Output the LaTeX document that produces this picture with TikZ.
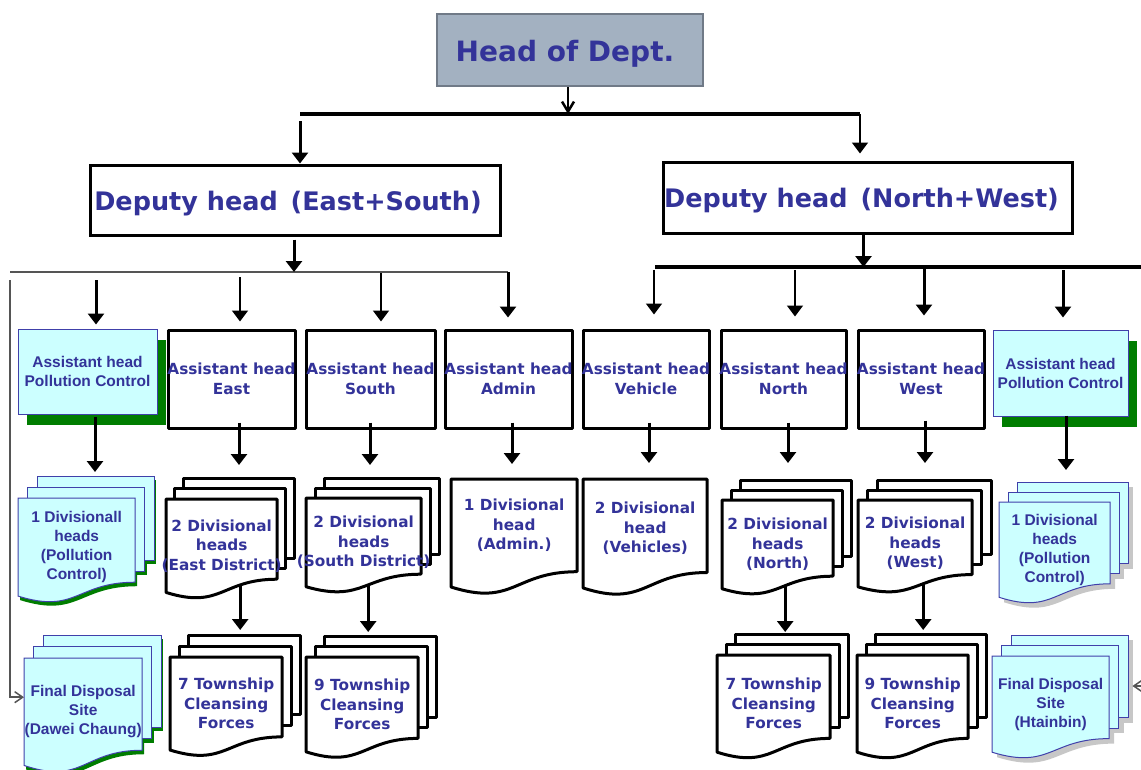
\documentclass[tikz,border=0pt]{standalone}
\usepackage{fontspec}
\setmainfont{DejaVu Sans}
\newfontfamily\arialfont{Liberation Sans}
\usetikzlibrary{arrows.meta,shadows}

\definecolor{txtblue}{RGB}{51,51,153}
\definecolor{paleaqua}{RGB}{204,255,255}
\definecolor{edgeblue}{RGB}{64,64,170}
\definecolor{shadowgreen}{RGB}{0,125,0}
\definecolor{headfill}{RGB}{163,177,193}
\definecolor{headedge}{RGB}{112,122,135}
\definecolor{wiregray}{RGB}{85,85,85}

% centred line that may overflow its box
\newcommand{\ctrline}[1]{\makebox[0pt]{#1}}
% text lowered without changing its box
\newcommand{\lowered}[2]{\raisebox{-#1}[\height][\depth]{#2}}

% flow-chart document: style, x, y (top left), width, height
\newcommand{\docshape}[5]{%
  \path[#1] (#2,#3) -- (#2+#4,#3) -- (#2+#4,#3+0.802*#5)
    .. controls (#2+0.5*#4,#3+0.802*#5) and (#2+0.5*#4,#3+1.1075*#5)
    .. (#2,#3+0.934*#5) -- cycle;}
% sheet lying behind a document
\newcommand{\backsheet}[5]{%
  \path[#1] (#2,#3) rectangle (#2+#4,#3+0.802*#5);}
% stack of three documents: style, x, y, width, height, dx, dy
\newcommand{\trio}[7]{%
  \backsheet{#1}{#2+2*#6}{#3-2*#7}{#4}{#5}
  \backsheet{#1}{#2+#6}{#3-#7}{#4}{#5}
  \docshape{#1}{#2}{#3}{#4}{#5}}

\tikzset{
  bluetext/.style={text=txtblue, inner sep=0pt, align=center,
    font=\bfseries\fontsize{15.3}{19.5}\selectfont},
  aquatext/.style={text=txtblue, inner sep=0pt, align=center,
    font=\arialfont\bfseries\fontsize{15.5}{19}\selectfont},
  plainbox/.style={bluetext, draw=black, line width=3pt, fill=white,
    minimum height=98pt, line join=round},
  aquabox/.style={aquatext, draw=edgeblue, line width=1pt, fill=paleaqua,
    drop shadow={shadow xshift=9pt, shadow yshift=-11pt, fill=shadowgreen, opacity=1}},
  docnode/.style={anchor=north west, inner sep=0pt},
  whitepage/.style={draw=black, line width=3pt, fill=white, line join=round},
  aquapage/.style={draw=edgeblue, line width=1pt, fill=paleaqua},
  greenshade/.style={fill=shadowgreen},
  grayshade/.style={fill=black!22},
  trunk/.style={line width=4pt},
  graywire/.style={draw=wiregray, line width=1.5pt},
  thickarr/.style={line width=3pt, -{Triangle[width=16pt,length=11pt]}},
  thinarr/.style={line width=1.6pt, -{Triangle[width=16pt,length=11pt]}},
  openarr/.style={line width=2.5pt, -{Straight Barb[length=10pt,width=12pt]}},
  sidearr/.style={graywire, -{Straight Barb[length=8pt,width=11pt]}},
  headbox/.style={draw=headedge, line width=2.5pt, fill=headfill, text=txtblue,
    font=\bfseries\fontsize{28}{32}\selectfont},
  deputybox/.style={draw=black, line width=3pt, fill=white, text=txtblue,
    inner sep=0pt, font=\bfseries\fontsize{25.5}{30}\selectfont},
}

\begin{document}
\begin{tikzpicture}[x=1pt,y=-1pt]
\useasboundingbox (0,0) rectangle (1141,769);

% ---------- top levels ----------
\node[headbox, minimum width=266pt, minimum height=72pt] (head) at (570,50)
  {\lowered{4pt}{Head of Dept.}\hspace*{10pt}};
\node[deputybox, minimum width=410pt, minimum height=70pt] (depL) at (295,200)
  {\lowered{3.5pt}{Deputy head\hspace{4pt} (East+South)}\hspace*{14pt}};
\node[deputybox, minimum width=409pt, minimum height=71pt] (depR) at (867.5,197.5)
  {\lowered{3pt}{Deputy head\hspace{4pt} (North+West)}\hspace*{12pt}};

% ---------- assistant heads ----------
\node[aquabox, minimum width=139pt, minimum height=85pt] (asstPL) at (87.5,371.5)
  {Assistant head\\Pollution Control};
\node[plainbox, minimum width=127pt] (asstE) at (231.5,379)
  {\ctrline{Assistant head}\\\ctrline{East}};
\node[plainbox, minimum width=129pt] (asstS) at (370.5,379)
  {\ctrline{Assistant head}\\\ctrline{South}};
\node[plainbox, minimum width=127pt] (asstA) at (508.5,379)
  {\ctrline{Assistant head}\\\ctrline{Admin}};
\node[plainbox, minimum width=126pt] (asstV) at (646,379)
  {\ctrline{Assistant head}\\\ctrline{Vehicle}};
\node[plainbox, minimum width=125pt] (asstN) at (783.5,379)
  {\ctrline{Assistant head}\\\ctrline{North}};
\node[plainbox, minimum width=126pt] (asstW) at (921,379)
  {\ctrline{Assistant head}\\\ctrline{West}};
\node[aquabox, minimum width=135pt, minimum height=86pt] (asstPR) at (1060.5,373)
  {Assistant head\\Pollution Control};

% ---------- divisional heads: sheets ----------
\trio{greenshade}{20}{502}{117}{105}{9.5}{11}
\trio{aquapage}{18}{498}{117}{105}{9.5}{11}
\trio{whitepage}{166}{499}{111}{100}{8.5}{10.5}
\trio{whitepage}{306}{498}{115}{95}{9}{10}
\docshape{whitepage}{451}{479}{126}{115.6}
\docshape{whitepage}{583}{479}{124}{116.6}
\trio{whitepage}{722}{500}{111}{95}{9}{10}
\trio{whitepage}{858}{500}{114}{93}{9.5}{10}
\trio{grayshade}{1004}{507}{111}{102}{9}{10}
\trio{aquapage}{999}{502}{111}{102}{9}{10}

% ---------- bottom row: sheets ----------
\trio{greenshade}{26}{662}{118}{115}{9.5}{11.5}
\trio{aquapage}{24}{658}{118}{115}{9.5}{11.5}
\trio{whitepage}{170}{657}{112}{99.6}{9}{11}
\trio{whitepage}{306}{657}{112}{101.5}{9}{10.5}
\trio{whitepage}{717}{655}{113}{104}{9}{10.5}
\trio{whitepage}{857}{655}{111}{104}{9}{10.5}
\trio{grayshade}{997}{661}{117}{103}{9.5}{10.5}
\trio{aquapage}{992}{656}{117}{103}{9.5}{10.5}

% ---------- divisional heads: labels ----------
\node[docnode, aquatext, minimum width=117pt, minimum height=98.1pt] (docPL) at (18,498)
  {\ctrline{1 Divisionall}\\\ctrline{heads}\\\ctrline{(Pollution}\\\ctrline{Control)}};
\node[docnode, bluetext, minimum width=111pt, minimum height=93.4pt] (docE) at (166,499)
  {\ctrline{2 Divisional}\\\ctrline{heads}\\\ctrline{(East District)}};
\node[docnode, bluetext, minimum width=115pt, minimum height=88.7pt] (docS) at (306,498)
  {\ctrline{2 Divisional}\\\ctrline{heads}\\\ctrline{(South District)}};
\node[docnode, bluetext, minimum width=126pt, minimum height=92pt] (docA) at (451,479)
  {\ctrline{1 Divisional}\\\ctrline{head}\\\ctrline{(Admin.)}};
\node[docnode, bluetext, minimum width=124pt, minimum height=98pt] (docV) at (583,479)
  {\ctrline{2 Divisional}\\\ctrline{head}\\\ctrline{(Vehicles)}};
\node[docnode, bluetext, minimum width=111pt, minimum height=88.7pt] (docN) at (722,500)
  {\ctrline{2 Divisional}\\\ctrline{heads}\\\ctrline{(North)}};
\node[docnode, bluetext, minimum width=114pt, minimum height=86.9pt] (docW) at (858,500)
  {\ctrline{2 Divisional}\\\ctrline{heads}\\\ctrline{(West)}};
\node[docnode, aquatext, minimum width=111pt, minimum height=95.3pt] (docPR) at (999,502)
  {\ctrline{1 Divisional}\\\ctrline{heads}\\\ctrline{(Pollution}\\\ctrline{Control)}};

% ---------- bottom row: labels ----------
\node[docnode, aquatext, minimum width=118pt, minimum height=107.4pt] (finL) at (24,658)
  {\ctrline{Final Disposal}\\\ctrline{Site}\\\ctrline{(Dawei Chaung)}};
\node[docnode, bluetext, minimum width=112pt, minimum height=93pt] (twE) at (170,657)
  {\ctrline{7 Township}\\\ctrline{Cleansing}\\\ctrline{Forces}};
\node[docnode, bluetext, minimum width=112pt, minimum height=94.8pt] (twS) at (306,657)
  {\ctrline{9 Township}\\\ctrline{Cleansing}\\\ctrline{Forces}};
\node[docnode, bluetext, minimum width=113pt, minimum height=97.1pt] (twN) at (717,655)
  {\ctrline{7 Township}\\\ctrline{Cleansing}\\\ctrline{Forces}};
\node[docnode, bluetext, minimum width=111pt, minimum height=97.1pt] (twW) at (857,655)
  {\ctrline{9 Township}\\\ctrline{Cleansing}\\\ctrline{Forces}};
\node[docnode, aquatext, minimum width=117pt, minimum height=96.2pt] (finR) at (992,656)
  {\ctrline{Final Disposal}\\\ctrline{Site}\\\ctrline{(Htainbin)}};

% ---------- head to deputies ----------
\coordinate (topL) at (300,114);
\coordinate (topR) at (860,114);
\draw[trunk] (topL) -- (topR);
\draw[openarr] ([xshift=-2pt]head.south) -- ([xshift=-2pt]head.south |- topL);
\draw[thickarr, shorten <=7pt] (topL) -- (topL |- depL.north);
\draw[thinarr, shorten >=7pt] (topR) -- (topR |- depR.north);

% ---------- east + south branch ----------
\coordinate (midL) at (10,272);
\coordinate (midLend) at (508,272);
\draw[graywire] (midL) -- (midLend);
\draw[thickarr, shorten <=3pt] ([xshift=-1pt]depL.south) -- ([xshift=-1pt]depL.south |- midL);
\draw[thickarr, shorten <=8pt, shorten >=4pt] ([xshift=8.5pt]asstPL.north |- midL) -- ([xshift=8.5pt]asstPL.north);
\draw[thinarr, shorten <=5pt, shorten >=7pt] ([xshift=8.5pt]asstE.north |- midL) -- ([xshift=8.5pt]asstE.north);
\draw[thinarr, shorten <=1pt, shorten >=7pt] ([xshift=10.5pt]asstS.north |- midL) -- ([xshift=10.5pt]asstS.north);
\draw[thickarr, shorten >=11pt] (midLend) -- (midLend |- asstA.north);

% ---------- north + west branch ----------
\coordinate (midR) at (655,267);
\coordinate (midRend) at (1141,267);
\draw[trunk] (midR) -- (midRend);
\draw[thickarr] ([xshift=-4pt]depR.south) -- ([xshift=-4pt]depR.south |- midR);
\draw[thinarr, shorten <=3pt, shorten >=14pt] ([xshift=8pt]asstV.north |- midR) -- ([xshift=8pt]asstV.north);
\draw[thinarr, shorten <=3pt, shorten >=12pt] ([xshift=11.5pt]asstN.north |- midR) -- ([xshift=11.5pt]asstN.north);
\draw[thickarr, shorten <=1pt, shorten >=13pt] ([xshift=3pt]asstW.north |- midR) -- ([xshift=3pt]asstW.north);
\draw[thickarr, shorten <=3pt, shorten >=12pt] ([xshift=2.5pt]asstPR.north |- midR) -- ([xshift=2.5pt]asstPR.north);

% ---------- assistant heads to divisional heads ----------
\draw[thickarr, shorten <=2pt, shorten >=26pt] ([xshift=7.5pt]asstPL.south) -- ([xshift=7.5pt]asstPL.south |- docPL.north);
\draw[thickarr, shorten <=-7pt, shorten >=34pt] ([xshift=7.5pt]asstE.south) -- ([xshift=7.5pt]asstE.south |- docE.north);
\draw[thickarr, shorten <=-7pt, shorten >=33pt] ([xshift=-0.5pt]asstS.south) -- ([xshift=-0.5pt]asstS.south |- docS.north);
\draw[thickarr, shorten <=-7pt, shorten >=15pt] ([xshift=3.5pt]asstA.south) -- ([xshift=3.5pt]asstA.south |- docA.north);
\draw[thickarr, shorten <=-7pt, shorten >=16pt] ([xshift=3pt]asstV.south) -- ([xshift=3pt]asstV.south |- docV.north);
\draw[thickarr, shorten <=-7pt, shorten >=37pt] ([xshift=4.5pt]asstN.south) -- ([xshift=4.5pt]asstN.south |- docN.north);
\draw[thickarr, shorten <=-9pt, shorten >=37pt] ([xshift=4pt]asstW.south) -- ([xshift=4pt]asstW.south |- docW.north);
\draw[thickarr, shorten <=-1pt, shorten >=32pt] ([xshift=5.5pt]asstPR.south) -- ([xshift=5.5pt]asstPR.south |- docPR.north);

% ---------- divisional heads to township forces ----------
\draw[thickarr, shorten <=-7pt, shorten >=27pt] ([xshift=18.5pt]docE.south) -- ([xshift=18.5pt]docE.south |- twE.north);
\draw[thickarr, shorten <=-3pt, shorten >=25pt] ([xshift=4.5pt]docS.south) -- ([xshift=4.5pt]docS.south |- twS.north);
\draw[thickarr, shorten <=-4pt, shorten >=23pt] ([xshift=7.5pt]docN.south) -- ([xshift=7.5pt]docN.south |- twN.north);
\draw[thickarr, shorten <=-4pt, shorten >=25pt] ([xshift=8pt]docW.south) -- ([xshift=8pt]docW.south |- twW.north);

% ---------- links to the disposal sites ----------
\draw[sidearr] ([yshift=-8pt]midL) |- ([yshift=14.7pt]finL.west);
\coordinate (edgeR) at (1141,686);
\draw[sidearr, shorten >=23pt] (edgeR) -- (edgeR -| finR.east);

\end{tikzpicture}
\end{document}
